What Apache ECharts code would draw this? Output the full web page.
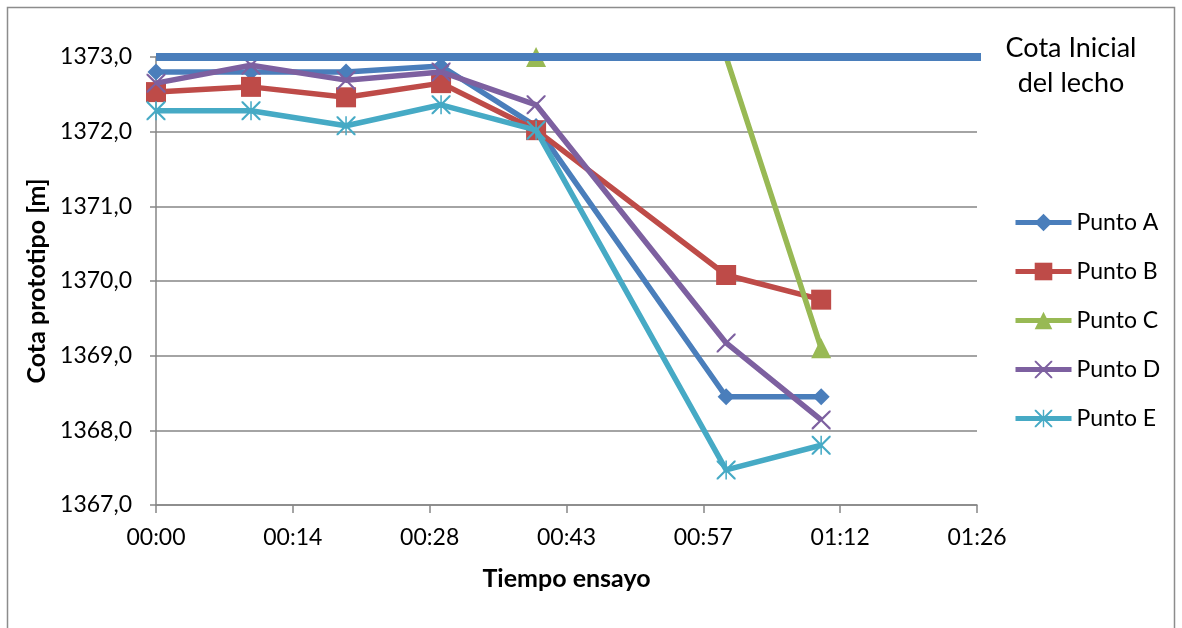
<!DOCTYPE html>
<html>
<head>
<meta charset="utf-8">
<script src="https://cdn.jsdelivr.net/npm/echarts@6/dist/echarts.min.js"></script>
<style>
  html, body { margin: 0; padding: 0; background: #ffffff; }
  #chart { width: 1182px; height: 628px; }
</style>
</head>
<body>
<div id="chart"></div>
<script>
// Elapsed test time, in minutes
const tiempos = [0, 10, 20, 30, 40, 60, 70];

// Prototype bed elevation at each measuring point [m]
const puntoA = [1372.80, 1372.80, 1372.80, 1372.88, 1372.07, 1368.45, 1368.45];
const puntoB = [1372.53, 1372.60, 1372.46, 1372.65, 1372.02, 1370.08, 1369.75];
const puntoC = [null, null, null, null, 1373.00, 1373.00, 1369.10];
const puntoD = [1372.65, 1372.89, 1372.69, 1372.80, 1372.36, 1369.17, 1368.14];
const puntoE = [1372.28, 1372.28, 1372.08, 1372.36, 1372.02, 1367.47, 1367.80];

// Initial bed level reference line
const cotaInicial = 1373.0;
const cotaInicialTramo = [0, 87.3];

const nombres = ['Punto A', 'Punto B', 'Punto C', 'Punto D', 'Punto E'];
const colores = ['#4A7EBB', '#BE4B48', '#98B954', '#7D60A0', '#46AAC5'];

// Axis ranges (time axis steps of 0.01 day = 14.4 min)
const xMin = 0, xMax = 86.4, xStep = 14.4;
const yMin = 1367, yMax = 1373, yStep = 1;

const FONT = 'Lato';

// Thin cross and asterisk marker outlines
const symX = 'path://M0,0 L1.6,0 L10,8.4 L18.4,0 L20,0 L20,1.6 L11.6,10 L20,18.4 L20,20 L18.4,20 L10,11.6 L1.6,20 L0,20 L0,18.4 L8.4,10 L0,1.6 Z';
const symAst = symX + ' M9.2,0 L10.8,0 L10.8,20 L9.2,20 Z';

const simbolos = [
  { symbol: 'diamond', size: [17, 17] },
  { symbol: 'rect', size: [20, 20] },
  { symbol: 'triangle', size: [20, 20] },
  { symbol: symX, size: [19, 19] },
  { symbol: symAst, size: [19, 19] }
];

function pares(valores) {
  return tiempos.map((t, i) => [t, valores[i]]);
}

function hhmm(v) {
  const m = Math.floor(v + 1e-6);
  const h = Math.floor(m / 60);
  const mm = m % 60;
  return String(h).padStart(2, '0') + ':' + String(mm).padStart(2, '0');
}

const datos = [puntoA, puntoB, puntoC, puntoD, puntoE];

const series = datos.map((vals, k) => {
  let data = pares(vals);
  if (k === 2) {
    // the 60-min point of C lies on the initial level without a marker
    data = data.map((p, i) => i === 5 ? { value: p, symbol: 'none' } : p);
  }
  return {
    name: nombres[k],
    type: 'line',
    data: data,
    symbol: simbolos[k].symbol,
    symbolSize: simbolos[k].size,
    showAllSymbol: true,
    connectNulls: false,
    lineStyle: { color: colores[k], width: 5.5 },
    itemStyle: { color: colores[k] },
    emphasis: { disabled: true },
    z: 2 + k * 0.01
  };
});

series.push({
  name: 'Cota Inicial',
  type: 'line',
  data: cotaInicialTramo.map(t => [t, cotaInicial]),
  symbol: 'none',
  clip: false,
  lineStyle: { color: '#4A7EBB', width: 8, cap: 'butt' },
  emphasis: { disabled: true },
  z: 5
});

const chart = echarts.init(document.getElementById('chart'), null, { renderer: 'canvas' });

chart.setOption({
  animation: false,
  backgroundColor: '#ffffff',
  textStyle: { fontFamily: FONT },
  title: {
    text: 'Cota Inicial\ndel lecho',
    left: 1066,
    top: 26,
    textAlign: 'center',
    textStyle: { fontFamily: FONT, fontSize: 27, fontWeight: 'normal', color: '#000', lineHeight: 35 }
  },
  grid: { left: 156, right: 205, top: 57, bottom: 123, containLabel: false },
  legend: {
    data: nombres,
    orient: 'vertical',
    left: 1013,
    top: 211,
    padding: 0,
    itemWidth: 56,
    itemHeight: 22,
    itemGap: 26,
    lineStyle: { width: 5 },
    textStyle: { fontFamily: FONT, fontSize: 23, color: '#000' },
    selectedMode: false
  },
  xAxis: {
    type: 'value',
    min: xMin,
    max: xMax,
    interval: xStep,
    name: 'Tiempo ensayo',
    nameLocation: 'middle',
    nameGap: 61,
    nameTextStyle: { fontFamily: FONT, fontSize: 25, fontWeight: 'bold', color: '#000' },
    axisLine: { show: true, lineStyle: { color: '#868686', width: 1.5 } },
    axisTick: { show: true, length: 8, lineStyle: { color: '#868686', width: 1.5 } },
    axisLabel: { formatter: hhmm, fontFamily: FONT, fontSize: 23, color: '#000', margin: 21 },
    splitLine: { show: false }
  },
  yAxis: {
    type: 'value',
    min: yMin,
    max: yMax,
    interval: yStep,
    name: 'Cota prototipo [m]',
    nameLocation: 'middle',
    nameGap: 105,
    nameTextStyle: { fontFamily: FONT, fontSize: 25, fontWeight: 'bold', color: '#000' },
    axisLine: { show: true, lineStyle: { color: '#868686', width: 1.5 } },
    axisTick: { show: true, length: 6, lineStyle: { color: '#868686', width: 1.5 } },
    axisLabel: {
      formatter: v => v.toFixed(1).replace('.', ','),
      fontFamily: FONT, fontSize: 23, color: '#000', margin: 24
    },
    splitLine: { show: true, lineStyle: { color: '#868686', width: 1.5 } }
  },
  graphic: [{
    type: 'rect',
    shape: { x: 7.5, y: 7.5, width: 1167, height: 700 },
    style: { fill: 'none', stroke: '#8C8C8C', lineWidth: 1.5 },
    silent: true,
    z: 0
  }],
  series: series
});
</script>
</body>
</html>
